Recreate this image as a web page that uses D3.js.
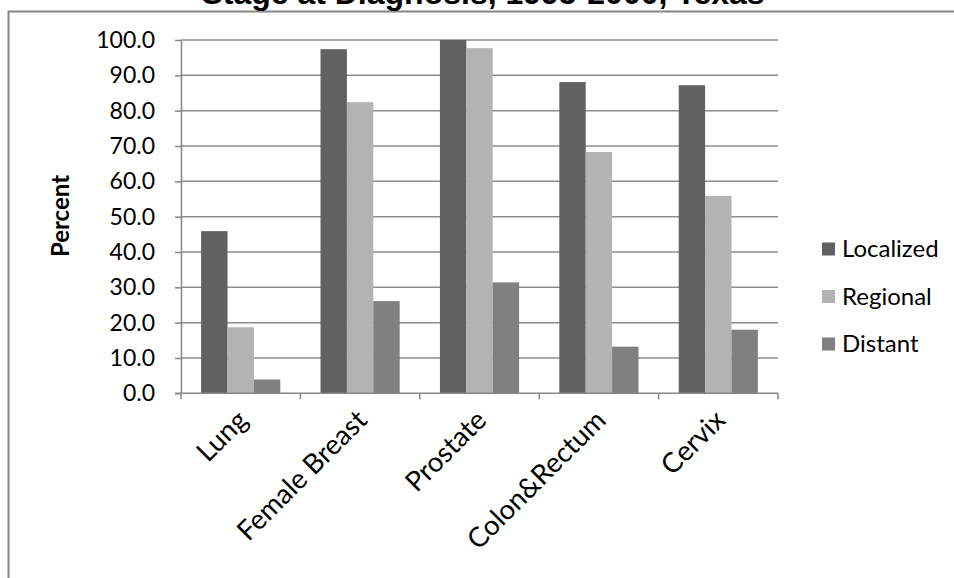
<!DOCTYPE html>
<html>
<head>
<meta charset="utf-8">
<script src="https://cdn.jsdelivr.net/npm/d3@7"></script>
<style>
  html, body { margin: 0; padding: 0; background: #fff; }
  svg { display: block; }
</style>
</head>
<body>
<svg id="chart" width="954" height="578"></svg>
<script>
// Cancer stage at diagnosis by site (percent)
const categories = ["Lung", "Female Breast", "Prostate", "Colon&Rectum", "Cervix"];
const seriesNames = ["Localized", "Regional", "Distant"];
const localized = [45.9, 97.4, 100.0, 88.1, 87.2];
const regional  = [18.7, 82.4, 97.7, 68.3, 55.9];
const distant   = [3.9, 26.1, 31.4, 13.2, 18.0];
const yTicks = [0, 10, 20, 30, 40, 50, 60, 70, 80, 90, 100];
const seriesColors = ["#616161", "#b3b3b3", "#808080"];

const seriesValues = [localized, regional, distant];
const table = categories.map((c, i) => ({
  category: c,
  values: seriesNames.map((s, k) => ({ series: s, value: seriesValues[k][i] }))
}));

const svg = d3.select("#chart");
const W = 954, H = 578;
const plot = { left: 181, right: 778, top: 40, bottom: 393.3 };
const labelFont = "Lato, 'Open Sans', sans-serif";
const axisGray = "#868686";

// outer chart frame
svg.append("rect")
  .attr("x", 8.5).attr("y", 11.5)
  .attr("width", W + 20).attr("height", H + 20)
  .attr("fill", "#fff").attr("stroke", axisGray).attr("stroke-width", 2);

// title
svg.append("text")
  .attr("x", 483).attr("y", 4)
  .attr("text-anchor", "middle")
  .attr("font-family", "'Liberation Sans', Arial, sans-serif")
  .attr("font-weight", "bold")
  .attr("font-size", 32)
  .attr("fill", "#000")
  .text("Stage at Diagnosis, 1995-2000, Texas");

const x0 = d3.scaleBand().domain(categories).range([plot.left, plot.right]).paddingInner(0).paddingOuter(0);
const groupInner = 0.663; // share of each category taken by its bar group
const x1 = d3.scaleBand().domain(seriesNames)
  .range([0, x0.bandwidth() * groupInner]);
const y = d3.scaleLinear().domain([0, 100]).range([plot.bottom, plot.top]);
const color = d3.scaleOrdinal().domain(seriesNames).range(seriesColors);

// gridlines
svg.append("g")
  .selectAll("line")
  .data(yTicks.filter(t => t > 0))
  .join("line")
  .attr("x1", plot.left).attr("x2", plot.right)
  .attr("y1", d => y(d)).attr("y2", d => y(d))
  .attr("stroke", "#8c8c8c").attr("stroke-width", 1.5);

// bars
const groupOffset = x0.bandwidth() * (1 - groupInner) / 2;
svg.append("g")
  .selectAll("g")
  .data(table)
  .join("g")
  .attr("transform", d => `translate(${x0(d.category) + groupOffset},0)`)
  .selectAll("rect")
  .data(d => d.values)
  .join("rect")
  .attr("x", d => x1(d.series))
  .attr("width", x1.bandwidth())
  .attr("y", d => y(d.value))
  .attr("height", d => y(0) - y(d.value))
  .attr("fill", d => color(d.series));

// y axis
const yAxis = d3.axisLeft(y).tickValues(yTicks).tickSize(6).tickSizeOuter(0)
  .tickFormat(d3.format(".1f"));
const gy = svg.append("g").attr("transform", `translate(${plot.left},0)`).call(yAxis);
gy.selectAll("path, line").attr("stroke", axisGray).attr("stroke-width", 1.5);
gy.selectAll("text")
  .attr("x", -26)
  .attr("font-family", labelFont)
  .attr("font-size", 23)
  .attr("fill", "#000");

// x axis with tick marks at category boundaries
const gx = svg.append("g").attr("transform", `translate(0,${plot.bottom})`);
gx.append("line")
  .attr("x1", plot.left - 6).attr("x2", plot.right)
  .attr("stroke", axisGray).attr("stroke-width", 1.5);
const boundaries = categories.map(c => x0(c)).concat([plot.right]);
gx.selectAll("line.tick")
  .data(boundaries)
  .join("line")
  .attr("class", "tick")
  .attr("x1", d => d).attr("x2", d => d)
  .attr("y1", 0).attr("y2", 6)
  .attr("stroke", axisGray).attr("stroke-width", 1.5);

// rotated category labels
gx.selectAll("text")
  .data(categories)
  .join("text")
  .attr("transform", d => `translate(${x0(d) + x0.bandwidth() / 2 - 6},${14}) rotate(-45)`)
  .attr("text-anchor", "end")
  .attr("dy", "0.75em")
  .attr("font-family", labelFont)
  .attr("font-size", 27.5)
  .attr("fill", "#000")
  .text(d => d);

// y axis title
svg.append("text")
  .attr("transform", "translate(69,216) rotate(-90)")
  .attr("text-anchor", "middle")
  .attr("font-family", labelFont)
  .attr("font-weight", "bold")
  .attr("font-size", 24)
  .attr("fill", "#000")
  .text("Percent");

// legend
const legend = svg.append("g")
  .selectAll("g")
  .data(seriesNames)
  .join("g")
  .attr("transform", (d, i) => `translate(822,${249 + i * 47.5})`);
legend.append("rect")
  .attr("x", 0).attr("y", -6.5)
  .attr("width", 13).attr("height", 13)
  .attr("fill", d => color(d));
legend.append("text")
  .attr("x", 20).attr("y", 0)
  .attr("dy", "0.35em")
  .attr("font-family", labelFont)
  .attr("font-size", 24)
  .attr("fill", "#000")
  .text(d => d);
</script>
</body>
</html>
